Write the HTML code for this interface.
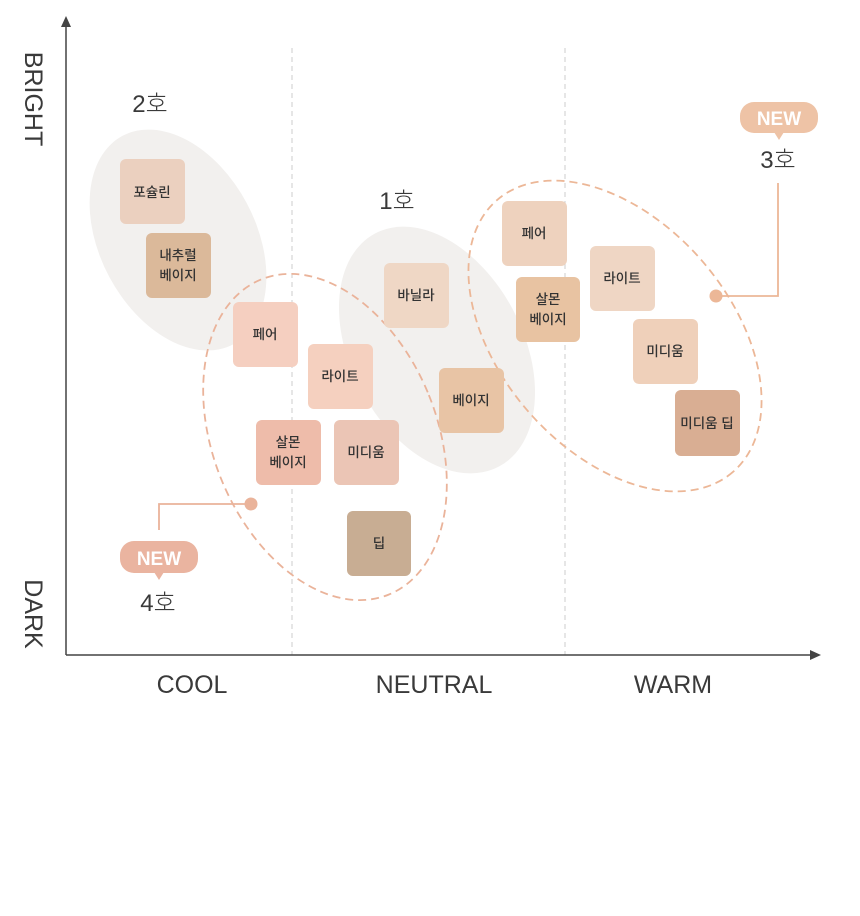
<!DOCTYPE html>
<html><head><meta charset="utf-8"><style>
html,body{margin:0;padding:0;background:#fff;}
svg{display:block;}
.ax{font-family:"Liberation Sans","Noto Sans CJK KR",sans-serif;font-weight:300;fill:#3a3a3a;font-size:25px;}
.bx{font-family:"Liberation Sans","Noto Sans CJK KR",sans-serif;font-size:13.5px;fill:#333;font-weight:500;text-anchor:middle;}
.ho{font-family:"Liberation Sans","Noto Sans CJK KR",sans-serif;font-weight:300;font-size:24px;fill:#3a3a3a;text-anchor:middle;}
.nw{font-family:"Liberation Sans",sans-serif;font-weight:bold;font-size:19px;fill:#fff;text-anchor:middle;}
</style></head><body>
<svg width="860" height="916" viewBox="0 0 860 916" xmlns="http://www.w3.org/2000/svg">
<rect width="860" height="916" fill="#fff"/>
<line x1="292" y1="48" x2="292" y2="655" stroke="#ccc" stroke-dasharray="5,4"/>
<line x1="565" y1="48" x2="565" y2="655" stroke="#ccc" stroke-dasharray="5,4"/>
<ellipse cx="178" cy="240" rx="78" ry="118" transform="rotate(-28 178 240)" fill="#f2f0ee"/>
<ellipse cx="437" cy="350" rx="86" ry="132" transform="rotate(-28 437 350)" fill="#f2f0ee"/>
<ellipse cx="325" cy="437" rx="112" ry="170" transform="rotate(-22 325 437)" fill="none" stroke="#eab39a" stroke-width="1.8" stroke-dasharray="8,5"/>
<ellipse cx="615" cy="336" rx="180" ry="115" transform="rotate(49 615 336)" fill="none" stroke="#ecb797" stroke-width="1.8" stroke-dasharray="8,5"/>
<line x1="66" y1="24" x2="66" y2="655" stroke="#444" stroke-width="1.5"/>
<polygon points="66,16 61,27 71,27" fill="#444"/>
<line x1="66" y1="655" x2="812" y2="655" stroke="#444" stroke-width="1.5"/>
<polygon points="821,655 810,650 810,660" fill="#444"/>
<text class="ax" transform="translate(25,99) rotate(90)" text-anchor="middle">BRIGHT</text>
<text class="ax" transform="translate(25,614) rotate(90)" text-anchor="middle">DARK</text>
<text class="ax" x="192" y="693" text-anchor="middle">COOL</text>
<text class="ax" x="434" y="693" text-anchor="middle">NEUTRAL</text>
<text class="ax" x="673" y="693" text-anchor="middle">WARM</text>
<g>
<rect x="120" y="159" width="65" height="65" rx="6" fill="#ebd0bf"/><text class="bx" x="152" y="197">포슐린</text>
<rect x="146" y="233" width="65" height="65" rx="6" fill="#dbb99a"/><text class="bx" x="178" y="260">내추럴</text><text class="bx" x="178" y="280">베이지</text>
<rect x="233" y="302" width="65" height="65" rx="6" fill="#f5cfc0"/><text class="bx" x="265" y="339">페어</text>
<rect x="308" y="344" width="65" height="65" rx="6" fill="#f5d0bf"/><text class="bx" x="340" y="381">라이트</text>
<rect x="256" y="420" width="65" height="65" rx="6" fill="#eebcaa"/><text class="bx" x="288" y="447">살몬</text><text class="bx" x="288" y="467">베이지</text>
<rect x="334" y="420" width="65" height="65" rx="6" fill="#ebc5b5"/><text class="bx" x="366" y="457">미디움</text>
<rect x="347" y="511" width="64" height="65" rx="6" fill="#c8ad93"/><text class="bx" x="379" y="548">딥</text>
<rect x="384" y="263" width="65" height="65" rx="6" fill="#efd7c5"/><text class="bx" x="416" y="300">바닐라</text>
<rect x="439" y="368" width="65" height="65" rx="6" fill="#e8c4a5"/><text class="bx" x="471" y="405">베이지</text>
<rect x="502" y="201" width="65" height="65" rx="6" fill="#eed2be"/><text class="bx" x="534" y="238">페어</text>
<rect x="516" y="277" width="64" height="65" rx="6" fill="#e8c3a2"/><text class="bx" x="548" y="304">살몬</text><text class="bx" x="548" y="324">베이지</text>
<rect x="590" y="246" width="65" height="65" rx="6" fill="#efd6c4"/><text class="bx" x="622" y="283">라이트</text>
<rect x="633" y="319" width="65" height="65" rx="6" fill="#efd0ba"/><text class="bx" x="665" y="356">미디움</text>
<rect x="675" y="390" width="65" height="66" rx="6" fill="#d9ae93"/><text class="bx" x="707" y="428">미디움 딥</text>
</g>
<text class="ho" x="150" y="112">2호</text>
<text class="ho" x="397" y="209">1호</text>
<text class="ho" x="778" y="168">3호</text>
<text class="ho" x="158" y="611">4호</text>
<polyline points="716,296 778,296 778,183" fill="none" stroke="#ecb797" stroke-width="1.8"/>
<circle cx="716" cy="296" r="6.5" fill="#ecb797"/>
<polyline points="251,504 159,504 159,530" fill="none" stroke="#eab39a" stroke-width="1.8"/>
<circle cx="251" cy="504" r="6.5" fill="#eab39a"/>
<rect x="740" y="102" width="78" height="31" rx="14" fill="#eec3a6"/><polygon points="774,132 784,132 779,140" fill="#eec3a6"/>
<text class="nw" x="779" y="125">NEW</text>
<rect x="120" y="541" width="78" height="32" rx="14" fill="#eab4a0"/><polygon points="154,572 164,572 159,580" fill="#eab4a0"/>
<text class="nw" x="159" y="565">NEW</text>
</svg>
</body></html>
